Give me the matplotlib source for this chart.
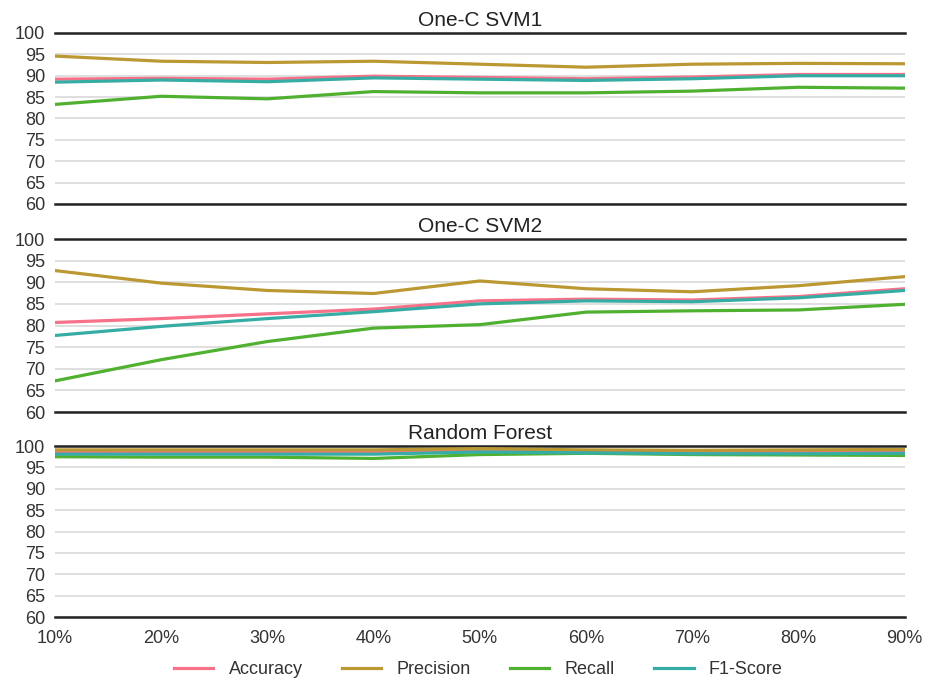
import matplotlib.pyplot as plt
from matplotlib import font_manager

# training set sizes on the x axis
sizes = ["10%", "20%", "30%", "40%", "50%", "60%", "70%", "80%", "90%"]
metrics = ["Accuracy", "Precision", "Recall", "F1-Score"]
colors = ["#f77189", "#bb9832", "#50b131", "#36ada4"]

# One-C SVM1
svm1_accuracy = [89.2, 89.4, 89.2, 89.9, 89.6, 89.3, 89.7, 90.3, 90.3]
svm1_precision = [94.6, 93.4, 93.1, 93.4, 92.7, 92.0, 92.7, 92.9, 92.8]
svm1_recall = [83.3, 85.2, 84.6, 86.3, 86.0, 86.0, 86.4, 87.3, 87.1]
svm1_f1 = [88.5, 89.0, 88.6, 89.5, 89.2, 88.9, 89.3, 90.0, 90.0]

# One-C SVM2
svm2_accuracy = [80.7, 81.6, 82.7, 83.8, 85.7, 86.1, 85.9, 86.7, 88.5]
svm2_precision = [92.7, 89.8, 88.1, 87.4, 90.3, 88.5, 87.8, 89.2, 91.3]
svm2_recall = [67.2, 72.1, 76.3, 79.4, 80.2, 83.1, 83.4, 83.6, 84.9]
svm2_f1 = [77.7, 79.8, 81.6, 83.2, 85.0, 85.7, 85.5, 86.4, 88.1]

# Random Forest
rf_accuracy = [98.7, 98.7, 98.7, 98.6, 98.9, 98.7, 98.6, 98.7, 98.8]
rf_precision = [99.1, 99.1, 99.1, 99.1, 99.4, 99.1, 99.0, 99.1, 99.2]
rf_recall = [97.5, 97.4, 97.4, 97.1, 98.0, 98.3, 98.0, 97.9, 97.8]
rf_f1 = [98.1, 98.1, 98.1, 98.1, 98.6, 98.4, 98.2, 98.2, 98.3]

panels = [
    ("One-C SVM1", [svm1_accuracy, svm1_precision, svm1_recall, svm1_f1]),
    ("One-C SVM2", [svm2_accuracy, svm2_precision, svm2_recall, svm2_f1]),
    ("Random Forest", [rf_accuracy, rf_precision, rf_recall, rf_f1]),
]

names = {f.name for f in font_manager.fontManager.ttflist}
family = "Liberation Sans Narrow" if "Liberation Sans Narrow" in names else "Liberation Sans"
plt.rcParams["font.family"] = [family, "DejaVu Sans"]

fig = plt.figure(figsize=(9.25, 6.79), dpi=100)
boxes = [(0.0595, 0.6996, 0.9185, 0.2518),
         (0.0595, 0.3932, 0.9185, 0.2548),
         (0.0595, 0.0913, 0.9185, 0.2518)]

x = list(range(len(sizes)))
for i, ((title, series), box) in enumerate(zip(panels, boxes)):
    ax = fig.add_axes(box)
    for vals, name, c in zip(series, metrics, colors):
        ax.plot(x, vals, color=c, lw=2.3, label=name, zorder=3)
    ax.set_xlim(0, len(sizes) - 1)
    ax.set_ylim(60, 100)
    ax.set_yticks(range(60, 101, 5))
    ax.grid(axis="y", color="#d9d9d9", lw=1.2, zorder=0)
    ax.tick_params(axis="both", length=0, labelsize=13, colors="#333333", pad=7)
    for s in ["left", "right"]:
        ax.spines[s].set_visible(False)
    for s in ["top", "bottom"]:
        ax.spines[s].set_color("#222222")
        ax.spines[s].set_linewidth(1.8)
    ax.set_title(title, fontsize=15, color="#222222", pad=5)
    ax.set_xticks(x)
    if i < 2:
        ax.set_xticklabels([])
    else:
        ax.set_xticklabels(sizes)
        ax.tick_params(axis="x", pad=9)
        handles, labels = ax.get_legend_handles_labels()

fig.legend(handles, labels, loc="center", bbox_to_anchor=(0.517, 0.014), ncol=4,
           frameon=False, fontsize=13, handlelength=2.2, handletextpad=0.85,
           columnspacing=2.15, labelcolor="#333333")

plt.savefig("out.png", dpi=100)
plt.close()
